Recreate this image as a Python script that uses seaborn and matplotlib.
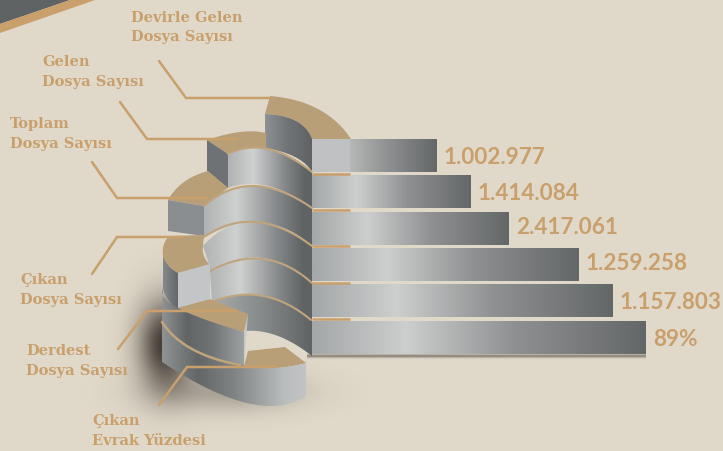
import numpy as np
import pandas as pd
import matplotlib
matplotlib.use("Agg")
import matplotlib.pyplot as plt
from matplotlib.colors import LinearSegmentedColormap as LSC
from matplotlib.patches import Polygon
import seaborn as sns

# ---- data ----
categories = ["Devirle Gelen Dosya Sayısı", "Gelen Dosya Sayısı", "Toplam Dosya Sayısı",
              "Çıkan Dosya Sayısı", "Derdest Dosya Sayısı", "Çıkan Evrak Yüzdesi"]
value_labels = ["1.002.977", "1.414.084", "2.417.061", "1.259.258", "1.157.803", "89%"]
# the infographic's bars are staggered, not proportional: lengths as drawn
drawn_lengths = [125, 159, 197, 267, 301, 334]
ring_labels = ["Devirle Gelen\nDosya Sayısı", "Gelen\nDosya Sayısı", "Toplam\nDosya Sayısı",
               "Çıkan\nDosya Sayısı", "Derdest\nDosya Sayısı", "Çıkan\nEvrak Yüzdesi"]
ring_label_pos = [(131, 27.5), (42, 72), (10, 134), (20, 290), (26, 361), (92, 431)]
label_nudges = [0.0, 0.0, -0.06, -0.08, 0.0, 0.0]

BG, TAN, LINE, RIM = "#e0d9ca", "#b99f78", "#c99f6c", "#c0a47c"
W, H = 723, 452

sns.set_theme(style="white", rc={"figure.facecolor": BG, "axes.facecolor": "none"})
fig = plt.figure(figsize=(W / 100, H / 100), dpi=100)
bg = fig.add_axes([0, 0, 1, 1], zorder=0)
bg.set_xlim(0, W); bg.set_ylim(H, 0); bg.axis("off")


def curve(p0, pm, p1, n=40):
    p0, pm, p1 = map(np.array, (p0, pm, p1))
    c = 2 * pm - (p0 + p1) / 2
    t = np.linspace(0, 1, n)[:, None]
    return (1 - t) ** 2 * p0 + 2 * t * (1 - t) * c + t ** 2 * p1


def gradient_fill(ax, patch, stops, z):
    patch.set_facecolor("none"); patch.set_edgecolor("none")
    bb = patch.get_path().transformed(patch.get_patch_transform()).get_extents()
    cmap = LSC.from_list("g", stops)
    im = ax.imshow(np.linspace(0, 1, 256)[None, :], cmap=cmap, aspect="auto", zorder=z,
                   extent=[bb.x0, bb.x1, bb.y1, bb.y0], interpolation="bilinear")
    im.set_clip_path(patch)


z = [2]
def flat(pts, color):
    z[0] += 1
    bg.add_patch(Polygon(np.vstack(pts), closed=True, fc=color, ec="none", zorder=z[0]))


def shaded(pts, stops):
    z[0] += 1
    p = Polygon(np.vstack(pts), closed=True)
    bg.add_patch(p)
    gradient_fill(bg, p, stops, z[0])


def rim(p0, pm, p1, lw=1.5):
    z[0] += 1
    c = curve(p0, pm, p1)
    bg.plot(c[:, 0], c[:, 1], color=RIM, lw=lw, zorder=z[0], solid_capstyle="round")


WALL = [(0, "#b0b3b3"), (0.3, "#cfd0d0"), (0.68, "#85888a"), (0.92, "#5f6364"), (1, "#5f6364")]

# ---- soft shadow on the ground ----
yy, xx = np.mgrid[0:H, 0:W]
d1 = np.exp(-(((xx - 165) / 27.0) ** 2 + ((yy - 345) / 44.0) ** 2))
d2 = np.exp(-(((xx - 225) / 70.0) ** 2 + ((yy - 392) / 20.0) ** 2)) * 0.30
d3 = np.exp(-((yy - 356.5) / 1.8) ** 2) * ((xx > 306) & (xx < 646)) * 0.45
alpha = np.clip(d1 * 0.88 + d2 + d3, 0, 1)
rgba = np.zeros((H, W, 4)); rgba[..., :3] = (0.17, 0.14, 0.12); rgba[..., 3] = alpha
bg.imshow(rgba, extent=[0, W, H, 0], aspect="auto", zorder=1)
bg.set_xlim(0, W); bg.set_ylim(H, 0)

# ---- corner ----
flat([(0, 0), (73, 0), (0, 25)], "#5f6364")
flat([(73, 0), (98, 0), (0, 34), (0, 25)], LINE)

# ---- ring 1 ----
flat([curve((270, 97), (318, 110), (351, 140)), curve((312, 140), (296, 122), (265, 115))], TAN)
shaded([curve((265, 115), (296, 122), (312, 140)), curve((312, 173), (295, 158), (265, 149))],
       [(0, "#8d9193"), (0.5, "#6f7375"), (1, "#5f6364")])

# ---- ring 2 ----
flat([curve((207, 141), (240, 133), (266, 134)), [(266, 149)], [(228, 155)]], TAN)
flat([(207, 141), (228, 155), (228, 189), (207, 172)], "#6e7274")
shaded([curve((228, 155), (266, 150), (312, 173)), curve((312, 209), (268, 187), (228, 189))], WALL)
rim((228, 155), (268, 150), (312, 173))

# ---- ring 3 ----
flat([curve((168, 201), (184, 183), (208, 172)), [(228, 189)], [(204, 207)]], TAN)
flat([(168, 201), (204, 207), (204, 237), (168, 232)], "#8b8e90")
shaded([curve((204, 207), (254, 187), (312, 209)), curve((312, 247), (262, 224), (204, 238))], WALL)
rim((204, 207), (254, 187), (312, 209))

# ---- ring 4 inner wall ----
shaded([curve((203, 247), (252, 223), (312, 247)), curve((312, 284), (262, 259), (210, 272)),
        [(210, 268)]], WALL)
rim((204, 238), (256, 223), (312, 247))

# ---- ring 5 & 6 inner walls ----
shaded([curve((210, 272), (263, 260), (312, 284)), curve((312, 321), (263, 297), (212, 303))], WALL)
rim((210, 272), (263, 260), (312, 284))
shaded([curve((212, 303), (263, 297), (312, 321)), [(312, 357)], curve((312, 357), (278, 337), (246, 332))],
       [(0, "#a8abac"), (0.5, "#878a8b"), (1, "#5f6364")])
rim((212, 303), (263, 297), (311, 321))

# ---- ring 4 tan top and outer wall ----
flat([curve((163, 257), (164, 245), (170, 237)), [(204, 236)], curve((203, 247), (204, 257), (210, 266)),
      curve((178, 274), (169, 267), (163, 257))], TAN)
shaded([curve((163, 257), (169, 267), (178, 274)), [(178, 310)], curve((178, 310), (169, 302), (163, 290))],
       [(0, "#858a8c"), (1, "#63676a")])
flat([(178, 274), (210, 265), (210, 300), (178, 309)], "#c4c5c7")

# ---- lowest ring top + wall ----
flat([(244, 367), (248, 352), (285, 348), (306, 364), curve((306, 364), (275, 369), (244, 367))], TAN)
shaded([curve((162, 318), (190, 345), (244, 360)), [(244, 367)], curve((244, 367), (275, 369), (306, 364)),
        [(306, 397)], curve((306, 397), (247, 404), (162, 363))],
       [(0, "#8f9394"), (0.25, "#626667"), (0.5, "#7f8384"), (0.85, "#babdbe"), (1, "#c2c4c5")])

# ---- ring 5 tan top and outer wall ----
flat([(178, 309), (210, 300), (248, 315), (244, 333), curve((244, 333), (207, 323), (178, 309))], TAN)
shaded([curve((163, 290), (178, 309), (244, 333)), [(244, 366)], curve((244, 366), (192, 350), (162, 323))],
       [(0, "#8f9394"), (0.3, "#616566"), (0.6, "#6f7374"), (1, "#a0a3a4")])
flat([(248, 315), (244, 366), (244, 333)], "#c8c9cb")
rim((162, 323), (192, 350), (240, 366), lw=1.8)

# ---- bars, through seaborn's axis and scales ----
TOP, BOTTOM = 138.2, 356.5      # outer category edges on the canvas
X0 = 312
ax = fig.add_axes([X0 / W, 1 - BOTTOM / H, (W - X0) / W, (BOTTOM - TOP) / H], zorder=1)
df = pd.DataFrame({"length": drawn_lengths, "category": categories})
sns.barplot(data=df, x="length", y="category", orient="h", color="#8d9091", width=0.91, ax=ax)
ax.set_xlim(0, W - X0)
ax.set_ylim(5.5, -0.5)
stops = [(0, "#a4a7a7"), (0.28, "#cdcfcf"), (0.6, "#8f9192"), (1, "#646768")]
stops_top = [(0, "#c0c1c3"), (0.3, "#c0c1c3"), (0.31, "#b5b7b7"), (0.6, "#8f9192"), (1, "#646768")]
for i, p in enumerate(ax.patches):
    gradient_fill(ax, p, stops_top if i == 0 else stops, 3)
ax.set_xlim(0, W - X0)
ax.set_ylim(5.5, -0.5)
for i, (n, lab) in enumerate(zip(drawn_lengths, value_labels)):
    ax.text(n + 7, i + 0.02 + label_nudges[i], lab, color=LINE, fontsize=16.2, family="Lato", weight="bold",
            va="center", ha="left", zorder=5)
for i in range(5):
    ax.plot([0, 38], [i + 0.5, i + 0.5], color=LINE, lw=1.8, zorder=4, solid_capstyle="butt")
ax.set_xlabel(""); ax.set_ylabel(""); ax.set_xticks([]); ax.set_yticks([])
sns.despine(ax=ax, left=True, bottom=True)

# ---- leader lines and ring labels ----
leaders = [[(159, 62), (186, 99), (270, 99)], [(120, 103), (147, 140), (236, 140)],
           [(92, 163), (117, 199), (207, 199)], [(92, 275), (117, 238), (182, 238)],
           [(118, 350), (147, 312), (237, 312)], [(159, 406), (187, 368), (275, 368)]]
for pts in leaders:
    pts = np.array(pts)
    bg.plot(pts[:, 0], pts[:, 1], color=LINE, lw=1.8, zorder=60, solid_joinstyle="miter")
for (x, y), lab in zip(ring_label_pos, ring_labels):
    bg.text(x, y, lab, color=LINE, fontsize=10.5, family="DejaVu Serif", weight="bold",
            va="center", ha="left", linespacing=1.5, zorder=61)

fig.savefig("out.png", dpi=100, facecolor=BG)
